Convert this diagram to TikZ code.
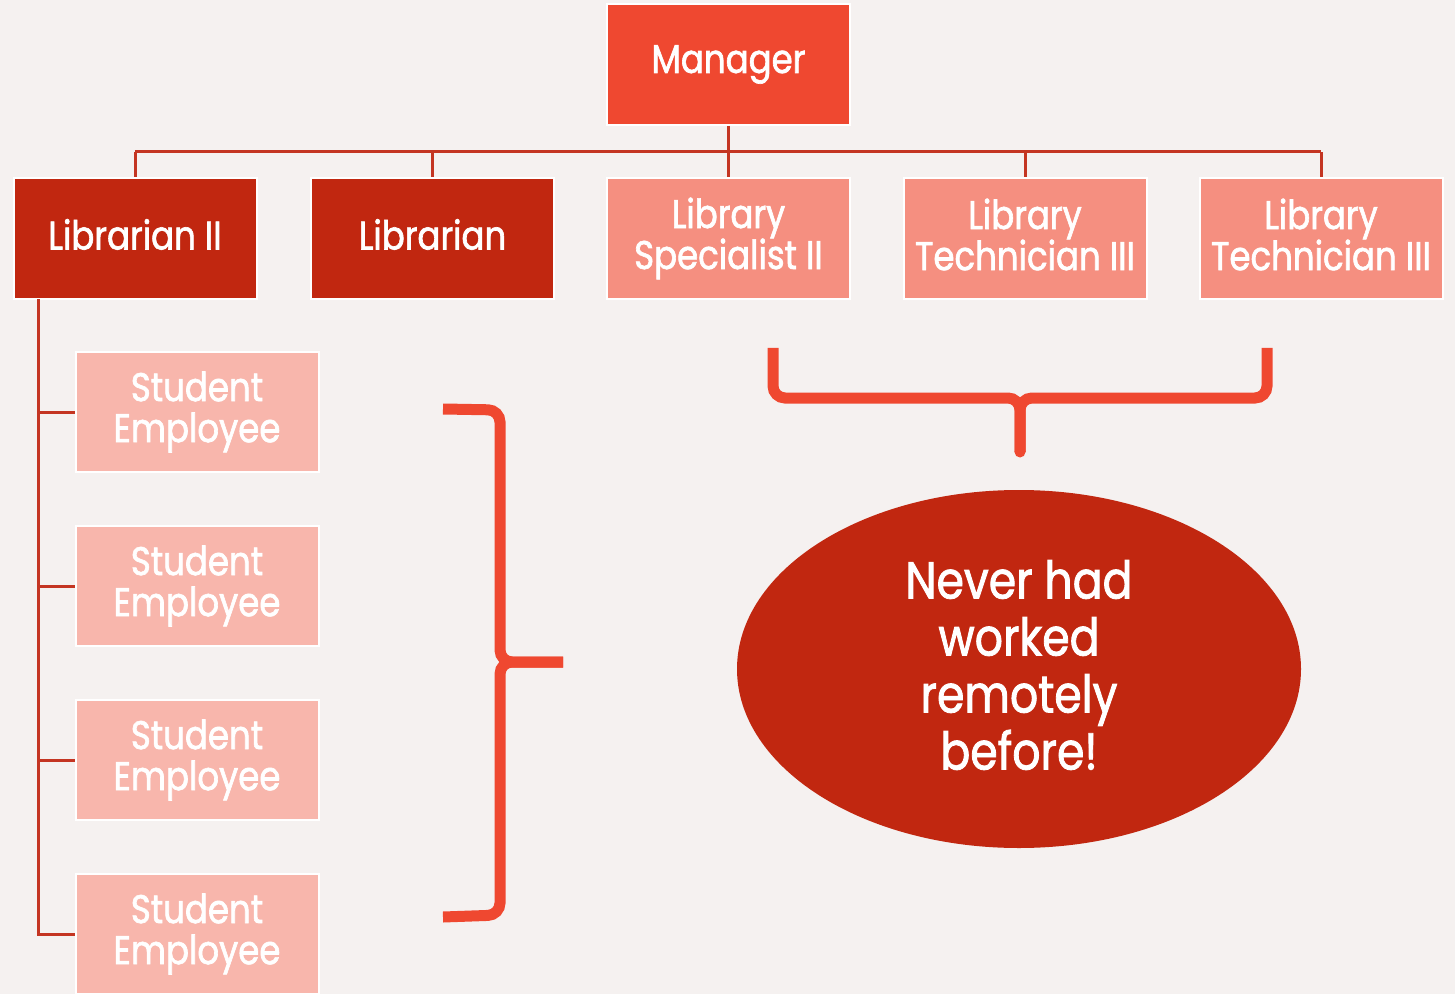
\documentclass[tikz,border=0pt]{standalone}
\usepackage{fontspec}
\setmainfont[FakeStretch=0.85, FakeBold=1.6]{Poppins}
\usetikzlibrary{shapes.geometric}
\definecolor{bgc}{HTML}{F5F1F0}
\definecolor{mgrc}{HTML}{EF4830}
\definecolor{darkc}{HTML}{C12710}
\definecolor{salmonc}{HTML}{F58F80}
\definecolor{pinkc}{HTML}{F8B6AC}
\definecolor{linec}{HTML}{C43522}
\definecolor{bracec}{HTML}{EF4830}
\tikzset{
  box/.style={rectangle, draw=white, line width=1pt, minimum width=121.5pt, minimum height=60.5pt,
    inner sep=0pt},
  boxtext/.style={inner sep=0pt, text=white, align=center, font=\fontsize{20pt}{20.5pt}\selectfont},
  mgrbox/.style={box, fill=mgrc},
  darkbox/.style={box, fill=darkc},
  salmonbox/.style={box, fill=salmonc},
  pinkbox/.style={box, fill=pinkc, minimum height=60pt},
  conn/.style={draw=linec, line width=1.5pt},
  bracepath/.style={draw=bracec, line width=5.5pt, rounded corners=6pt},
  cloud/.style={ellipse, fill=darkc, minimum width=282pt, minimum height=179pt, inner sep=0pt},
  cloudtext/.style={inner sep=0pt, text=white, align=center, font=\fontsize{26pt}{28.5pt}\selectfont}
}
\begin{document}
\begin{tikzpicture}[x=0.5pt, y=-0.5pt]
\useasboundingbox (0,0) rectangle (1455,994);
\clip (0,0) rectangle (1455,994);
\fill[bgc] (0,0) rectangle (1455,994);

\node[mgrbox] (mgr) at (728.5,64.5) {};
\node[darkbox] (lib2) at (135,238.5) {};
\node[darkbox] (lib) at (432.5,238.5) {};
\node[salmonbox] (spec) at (728.5,238.5) {};
\node[salmonbox] (tech1) at (1025,238.5) {};
\node[salmonbox] (tech2) at (1321,238.5) {};
\node[boxtext] (mgrt) at (mgr.center) {Manager};
\node[boxtext] (lib2t) at ([yshift=2pt]lib2.center) {Librarian II};
\node[boxtext] (libt) at ([yshift=2pt]lib.center) {Librarian};
\node[boxtext] (spect) at ([yshift=0pt]spec.center) {Library\\Specialist II};
\node[boxtext] (tech1t) at ([yshift=2pt]tech1.center) {Library\\Technician III};
\node[boxtext] (tech2t) at ([yshift=2pt]tech2.center) {Library\\Technician III};

\foreach \n/\y in {s1/412, s2/586, s3/760, s4/934} {
  \node[pinkbox] (\n) at (197,\y) {};
  \node[boxtext] (\n t) at (\n.center) {Student\\Employee};
}

\coordinate (bus) at (728.5,152);
\draw[conn] (mgr.south) -- (bus);
\draw[conn] (lib2.north |- bus) -- (tech2.north |- bus);
\foreach \n in {lib2,lib,spec,tech1,tech2} \draw[conn] (\n.north) -- (\n.north |- bus);

\coordinate (spine) at (38,299);
\draw[conn] (spine) |- (s4.west);
\foreach \n in {s1,s2,s3} \draw[conn] (spine |- \n.west) -- (\n.west);

\coordinate (lbT) at (443,409);
\coordinate (lbB) at (443,917);
\coordinate (lbTip) at (563,662);
\draw[bracepath] (lbT) -- (500,410) -- (500,662) -- (lbTip);
\draw[bracepath] (lbTip) -- (500,662) -- (500,915) -- (lbB);

\coordinate (tbL) at (773,348);
\coordinate (tbR) at (1267,348);
\coordinate (tbTip) at (1020,452);
\draw[bracepath] (tbL) -- (773,398) -- (1020,398) -- (tbTip);
\draw[bracepath] (tbR) -- (1267,398) -- (1020,398) -- (tbTip);
\fill[bracec] (tbTip) circle (2.75pt);

\node[cloud] (note) at (1019,669) {};
\node[cloudtext] (notet) at ([yshift=2pt]note.center) {Never had\\worked\\remotely\\before!};
\end{tikzpicture}
\end{document}
